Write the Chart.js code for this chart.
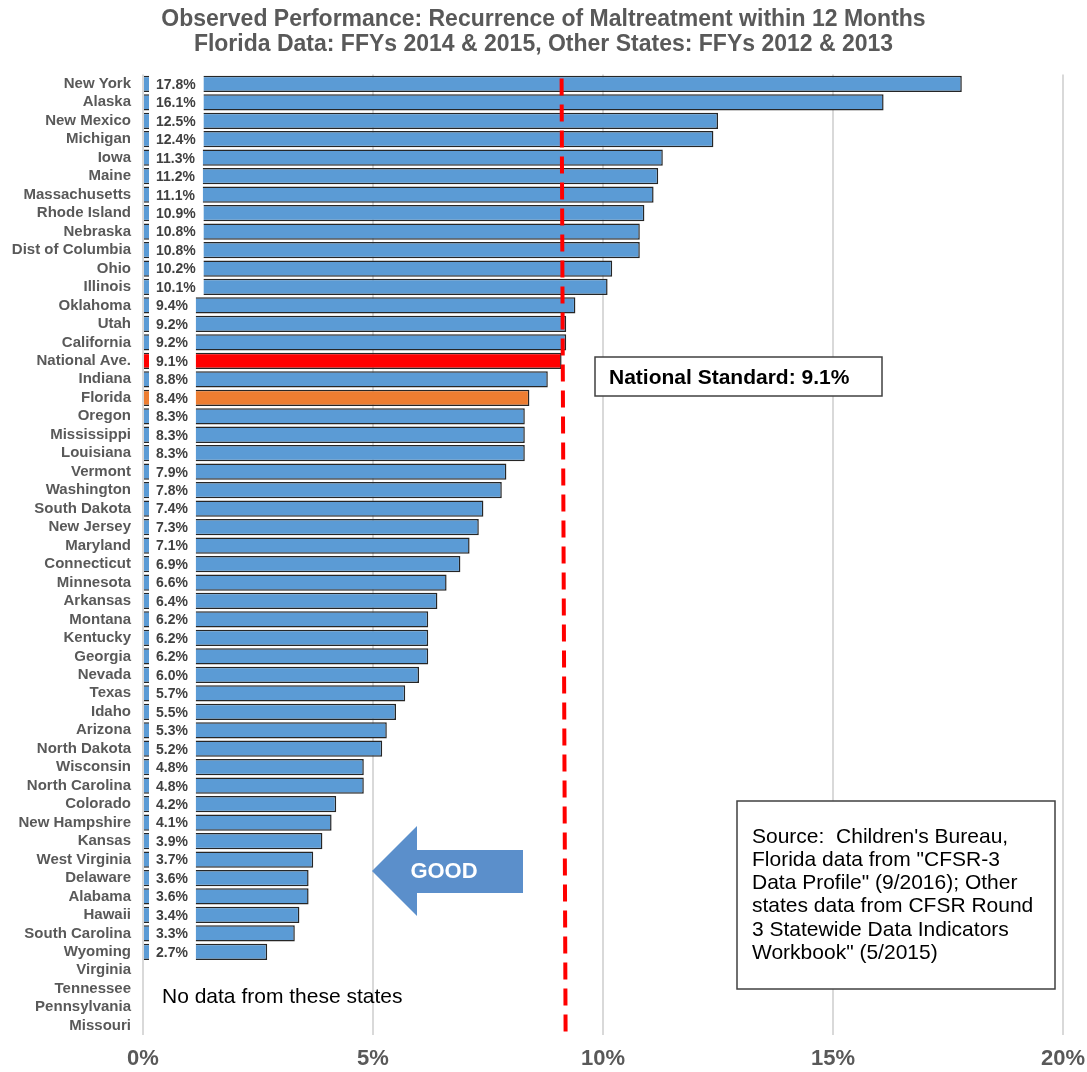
<!DOCTYPE html>
<html><head><meta charset="utf-8">
<script src="https://cdn.jsdelivr.net/npm/chart.js@4"></script>
<style>html,body{margin:0;padding:0;background:#fff}canvas{display:block}</style>
</head><body>
<canvas id="c" width="1087" height="1072"></canvas>
<script>
const states = ["New York","Alaska","New Mexico","Michigan","Iowa","Maine","Massachusetts","Rhode Island","Nebraska","Dist of Columbia","Ohio","Illinois","Oklahoma","Utah","California","National Ave.","Indiana","Florida","Oregon","Mississippi","Louisiana","Vermont","Washington","South Dakota","New Jersey","Maryland","Connecticut","Minnesota","Arkansas","Montana","Kentucky","Georgia","Nevada","Texas","Idaho","Arizona","North Dakota","Wisconsin","North Carolina","Colorado","New Hampshire","Kansas","West Virginia","Delaware","Alabama","Hawaii","South Carolina","Wyoming","Virginia","Tennessee","Pennsylvania","Missouri"];
const rates = [17.8,16.1,12.5,12.4,11.3,11.2,11.1,10.9,10.8,10.8,10.2,10.1,9.4,9.2,9.2,9.1,8.8,8.4,8.3,8.3,8.3,7.9,7.8,7.4,7.3,7.1,6.9,6.6,6.4,6.2,6.2,6.2,6.0,5.7,5.5,5.3,5.2,4.8,4.8,4.2,4.1,3.9,3.7,3.6,3.6,3.4,3.3,2.7,null,null,null,null];
const xTicks = [0,5,10,15,20];
const nationalStandard = 9.1;
const titleLines = ["Observed Performance: Recurrence of Maltreatment within 12 Months","Florida Data: FFYs 2014 & 2015, Other States: FFYs 2012 & 2013"];
const sourceLines = ["Source:  Children's Bureau,","Florida data from \"CFSR-3","Data Profile\" (9/2016); Other","states data from CFSR Round","3 Statewide Data Indicators","Workbook\" (5/2015)"];

const colors = states.map(s => s === "National Ave." ? "#FF0000" : (s === "Florida" ? "#ED7D31" : "#5B9BD5"));
const FONT = '"Liberation Sans", Arial, sans-serif';

const overlay = {
  id: 'overlay',
  afterDatasetsDraw(chart) {
    const ctx = chart.ctx;
    const xs = chart.scales.x;
    const base = xs.getPixelForValue(0);
    const meta = chart.getDatasetMeta(0);
    ctx.save();
    ctx.font = 'bold 14px ' + FONT;
    ctx.textBaseline = 'middle';
    meta.data.forEach((el, i) => {
      const v = rates[i];
      if (v === null) return;
      const t = v.toFixed(1) + '%';
      const tw = ctx.measureText(t).width;
      ctx.fillStyle = '#fff';
      ctx.fillRect(base + 6, el.y - el.height/2 - 1, tw + 15, el.height + 2);
      ctx.fillStyle = '#404040';
      ctx.textAlign = 'left';
      ctx.fillText(t, base + 13, el.y + 1);
    });
    ctx.restore();
  },
  afterDraw(chart) {
    const ctx = chart.ctx;
    const xs = chart.scales.x;
    const area = chart.chartArea;
    ctx.save();
    const nx = xs.getPixelForValue(nationalStandard);
    ctx.strokeStyle = '#FF0000';
    ctx.lineWidth = 4;
    ctx.setLineDash([17, 9]);
    ctx.beginPath();
    ctx.moveTo(nx, area.top + 4);
    ctx.lineTo(nx + 4, area.bottom);
    ctx.stroke();
    ctx.setLineDash([]);

    ctx.fillStyle = '#fff';
    ctx.fillRect(595, 357, 287, 39);
    ctx.strokeStyle = '#404040';
    ctx.lineWidth = 1.5;
    ctx.strokeRect(595, 357, 287, 39);
    ctx.fillStyle = '#000';
    ctx.font = 'bold 21px ' + FONT;
    ctx.textAlign = 'left';
    ctx.textBaseline = 'middle';
    ctx.fillText('National Standard: 9.1%', 609, 378);

    ctx.fillStyle = '#fff';
    ctx.fillRect(737, 801, 318, 188);
    ctx.strokeRect(737, 801, 318, 188);
    ctx.fillStyle = '#000';
    ctx.font = '21px ' + FONT;
    sourceLines.forEach((l, i) => ctx.fillText(l, 752, 837 + i * 23.2));

    ctx.fillStyle = '#5B8FCB';
    ctx.beginPath();
    ctx.moveTo(372, 871);
    ctx.lineTo(417, 826);
    ctx.lineTo(417, 850);
    ctx.lineTo(523, 850);
    ctx.lineTo(523, 893);
    ctx.lineTo(417, 893);
    ctx.lineTo(417, 916);
    ctx.closePath();
    ctx.fill();
    ctx.fillStyle = '#fff';
    ctx.font = 'bold 22px ' + FONT;
    ctx.textAlign = 'center';
    ctx.fillText('GOOD', 444, 872);

    ctx.fillStyle = '#000';
    ctx.font = '21px ' + FONT;
    ctx.textAlign = 'left';
    ctx.fillText('No data from these states', 162, 997);
    ctx.restore();
  }
};

new Chart(document.getElementById('c'), {
  type: 'bar',
  data: {
    labels: states,
    datasets: [{
      data: rates,
      backgroundColor: colors,
      borderColor: '#262626',
      borderWidth: 1.5,
      barPercentage: 0.88,
      categoryPercentage: 1.0
    }]
  },
  options: {
    indexAxis: 'y',
    responsive: false,
    animation: false,
    devicePixelRatio: 1,
    layout: { padding: 0 },
    plugins: {
      legend: { display: false },
      tooltip: { enabled: false },
      title: {
        display: true,
        text: titleLines,
        color: '#595959',
        font: { family: FONT, size: 23, weight: 'bold', lineHeight: 1.1 },
        padding: { top: 7, bottom: 17 }
      }
    },
    scales: {
      x: {
        min: 0, max: 20,
        afterBuildTicks(axis) { axis.ticks = xTicks.map(v => ({ value: v })); },
        afterFit(axis) { axis.height = 37; axis.paddingLeft = 0; axis.paddingRight = 24; },
        ticks: {
          callback: v => v + '%',
          color: '#595959',
          font: { family: FONT, size: 22, weight: 'bold' },
          padding: 11,
          maxRotation: 0
        },
        grid: { color: '#d9d9d9', lineWidth: 2, drawTicks: false },
        border: { display: false }
      },
      y: {
        afterFit(axis) { axis.width = 143; },
        ticks: {
          color: '#595959',
          font: { family: FONT, size: 15, weight: 'bold' },
          padding: 12,
          autoSkip: false
        },
        grid: { display: false, drawTicks: false },
        border: { display: false }
      }
    }
  },
  plugins: [overlay]
});
</script>
</body></html>
